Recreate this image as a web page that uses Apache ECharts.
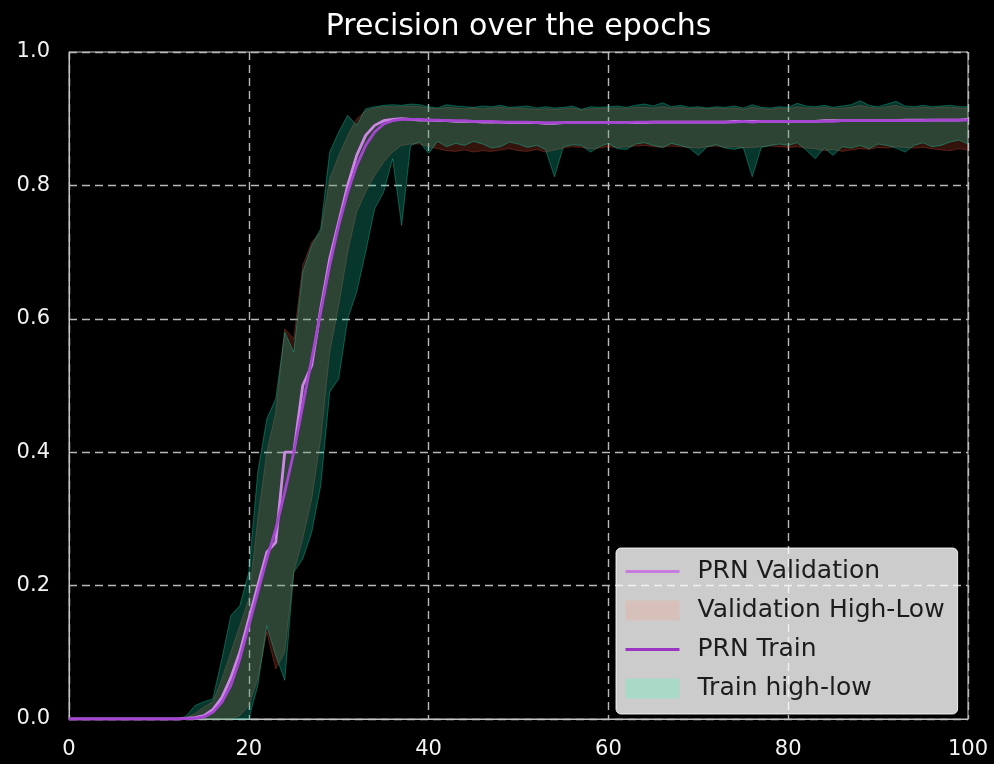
<!DOCTYPE html>
<html>
<head>
<meta charset="utf-8">
<script src="https://cdn.jsdelivr.net/npm/echarts@6/dist/echarts.min.js"></script>
<style>
html,body{margin:0;padding:0;background:#000;}
#chart{width:994px;height:764px;}
</style>
</head>
<body>
<div id="chart"></div>
<script>
// ---- data ----
const epochs = [0,1,2,3,4,5,6,7,8,9,10,11,12,13,14,15,16,17,18,19,20,21,22,23,24,25,26,27,28,29,30,31,32,33,34,35,36,37,38,39,40,41,42,43,44,45,46,47,48,49,50,51,52,53,54,55,56,57,58,59,60,61,62,63,64,65,66,67,68,69,70,71,72,73,74,75,76,77,78,79,80,81,82,83,84,85,86,87,88,89,90,91,92,93,94,95,96,97,98,99,100];

const valMean = [
  0,0,0,0,0,0,0,0,0,0,
  0,0,0,0.0008,0.002,0.005,0.014,0.032,0.062,0.10,
  0.15,0.20,0.25,0.265,0.40,0.40,0.50,0.53,0.615,0.69,
  0.745,0.80,0.845,0.875,0.89,0.897,0.899,0.90,0.899,
  0.898,0.898,0.897,0.897,0.896,0.896,0.896,0.895,0.895,0.895,
  0.894,0.894,0.894,0.894,0.893,0.893,0.894,0.894,0.894,0.894,
  0.894,0.894,0.894,0.894,0.894,0.894,0.895,0.895,0.895,0.895,
  0.895,0.895,0.895,0.895,0.895,0.896,0.896,0.896,0.896,0.896,
  0.896,0.896,0.896,0.896,0.896,0.897,0.897,0.897,0.897,0.897,
  0.897,0.897,0.897,0.897,0.898,0.898,0.898,0.898,0.898,0.898,
  0.898,0.899
];
const valLow = [
  0,0,0,0,0,0,0,0,0,0,
  0,0,0,0,0,0,0,0,0,0.005,
  0.02,0.06,0.13,0.075,0.10,0.22,0.27,0.33,0.42,0.55,
  0.62,0.70,0.76,0.79,0.815,0.835,0.85,0.86,0.862,
  0.862,0.858,0.855,0.852,0.851,0.853,0.850,0.852,0.851,0.853,
  0.855,0.852,0.851,0.854,0.850,0.853,0.856,0.858,0.857,0.855,
  0.856,0.858,0.857,0.858,0.859,0.860,0.858,0.857,0.859,0.858,
  0.857,0.856,0.858,0.859,0.857,0.858,0.856,0.857,0.858,0.859,
  0.858,0.857,0.858,0.856,0.855,0.852,0.854,0.851,0.853,0.855,
  0.854,0.857,0.856,0.858,0.857,0.856,0.857,0.855,0.853,0.852,
  0.855,0.853
];
const valHigh = [
  0,0,0,0,0,0,0,0,0,0,
  0,0,0,0.002,0.008,0.018,0.026,0.06,0.10,0.14,
  0.18,0.30,0.40,0.46,0.585,0.57,0.68,0.715,0.73,0.81,
  0.845,0.875,0.90,0.912,0.916,0.918,0.918,0.918,0.919,
  0.918,0.916,0.915,0.917,0.916,0.915,0.916,0.915,0.916,0.917,
  0.915,0.916,0.915,0.914,0.915,0.914,0.915,0.916,0.913,0.915,
  0.915,0.916,0.916,0.915,0.917,0.917,0.916,0.918,0.916,0.917,
  0.915,0.916,0.915,0.916,0.915,0.916,0.914,0.917,0.915,0.914,
  0.916,0.915,0.918,0.916,0.916,0.917,0.915,0.916,0.917,0.920,
  0.917,0.916,0.918,0.920,0.916,0.916,0.917,0.916,0.917,0.917,
  0.916,0.916
];
const trainMean = [
  0,0,0,0,0,0,0,0,0,0,
  0,0,0,0.0005,0.001,0.003,0.01,0.025,0.05,0.09,
  0.14,0.19,0.24,0.285,0.34,0.40,0.47,0.54,0.61,0.68,
  0.74,0.79,0.83,0.86,0.88,0.892,0.897,0.899,0.899,
  0.899,0.898,0.898,0.897,0.897,0.897,0.896,0.896,0.896,0.895,
  0.895,0.895,0.895,0.894,0.894,0.894,0.894,0.894,0.894,0.894,
  0.894,0.894,0.894,0.894,0.895,0.895,0.895,0.895,0.895,0.895,
  0.895,0.895,0.895,0.895,0.895,0.895,0.896,0.895,0.896,0.896,
  0.896,0.896,0.896,0.896,0.896,0.896,0.896,0.897,0.897,0.897,
  0.897,0.897,0.897,0.897,0.897,0.897,0.897,0.898,0.898,0.898,
  0.898,0.898
];
const trainLow = [
  0,0,0,0,0,0,0,0,0,0,
  0,0,0,0,0,0,0,0,0,0,
  0,0.05,0.14,0.095,0.058,0.22,0.24,0.28,0.35,0.49,
  0.51,0.60,0.64,0.70,0.765,0.79,0.84,0.74,0.86,
  0.865,0.848,0.866,0.858,0.863,0.860,0.866,0.862,0.856,0.858,
  0.865,0.862,0.857,0.860,0.854,0.813,0.858,0.861,0.860,0.850,
  0.858,0.863,0.855,0.854,0.862,0.864,0.860,0.857,0.863,0.860,
  0.856,0.845,0.858,0.861,0.856,0.854,0.857,0.813,0.857,0.860,
  0.862,0.860,0.864,0.853,0.840,0.856,0.845,0.858,0.856,0.860,
  0.855,0.862,0.860,0.856,0.850,0.860,0.864,0.858,0.860,0.865,
  0.868,0.862
];
const trainHigh = [
  0,0,0,0,0,0,0,0,0,0,
  0,0,0,0.004,0.02,0.026,0.03,0.09,0.155,0.17,
  0.22,0.37,0.45,0.48,0.58,0.55,0.67,0.71,0.735,0.85,
  0.88,0.905,0.89,0.915,0.918,0.92,0.921,0.92,0.922,
  0.921,0.918,0.916,0.921,0.919,0.918,0.917,0.919,0.918,0.920,
  0.917,0.918,0.919,0.916,0.918,0.916,0.917,0.919,0.914,0.918,
  0.917,0.918,0.919,0.917,0.920,0.922,0.919,0.924,0.918,0.920,
  0.917,0.918,0.916,0.918,0.917,0.919,0.916,0.921,0.917,0.916,
  0.918,0.917,0.923,0.919,0.918,0.920,0.917,0.919,0.921,0.927,
  0.920,0.918,0.922,0.926,0.919,0.918,0.920,0.918,0.919,0.920,
  0.918,0.918
];
const xTicks = [0, 20, 40, 60, 80, 100];
const yTicks = [0.0, 0.2, 0.4, 0.6, 0.8, 1.0];

// ---- build ----
const pairs = arr => epochs.map((x, i) => [x, arr[i]]);
const bandData = (lo, hi) => epochs.map((x, i) => [x, lo[i], hi[i]]);

const FONT = 'DejaVu Sans';
const VAL_LINE = '#cd88e6';
const TR_LINE = '#a645d2';
const RED_FILL = 'rgba(235,85,60,0.22)';
const RED_EDGE = 'rgba(235,85,60,0.28)';
const GREEN_FILL = 'rgba(24,215,175,0.25)';
const GREEN_EDGE = 'rgba(24,215,175,0.36)';

function bandSeries(name, lo, hi, fill, edge) {
  return {
    type: 'custom', name: name, silent: true, animation: false,
    data: bandData(lo, hi),
    encode: {x: 0, y: [1, 2]},
    itemStyle: {color: fill},
    renderItem: function (params, api) {
      if (params.dataIndex !== 0) return null;
      const upper = [], lower = [];
      for (let i = 0; i < epochs.length; i++) {
        upper.push(api.coord([epochs[i], hi[i]]));
        lower.push(api.coord([epochs[i], lo[i]]));
      }
      const poly = upper.concat(lower.slice().reverse());
      return {
        type: 'group',
        children: [
          {type: 'polygon', shape: {points: poly}, style: {fill: fill, stroke: null}},
          {type: 'polyline', shape: {points: upper}, style: {fill: null, stroke: edge, lineWidth: 1}},
          {type: 'polyline', shape: {points: lower}, style: {fill: null, stroke: edge, lineWidth: 1}}
        ]
      };
    }
  };
}

const chart = echarts.init(document.getElementById('chart'), null, {renderer: 'canvas'});
const lineCommon = {type: 'line', symbol: 'none', showSymbol: false, silent: true, animation: false, emphasis: {disabled: true}};

chart.setOption({
  backgroundColor: '#000000',
  animation: false,
  title: {
    text: 'Precision over the epochs',
    left: 518.5, top: 12, padding: 0, textAlign: 'center',
    textStyle: {color: '#ffffff', fontFamily: FONT, fontSize: 30, fontWeight: 'normal'}
  },
  grid: {left: 69, top: 52, right: 26, bottom: 45, show: true, borderColor: '#c4c4c4', borderWidth: 1, backgroundColor: '#000'},
  xAxis: {
    type: 'value', min: xTicks[0], max: xTicks[xTicks.length - 1], interval: xTicks[1] - xTicks[0],
    axisLine: {show: true, lineStyle: {color: '#c4c4c4', width: 1}},
    axisTick: {show: false},
    axisLabel: {color: '#f2f2f2', fontFamily: FONT, fontSize: 21, margin: 20},
    splitLine: {show: true, lineStyle: {color: '#b8b8b8', width: 1.4, type: [8, 5]}}
  },
  yAxis: {
    type: 'value', min: yTicks[0], max: yTicks[yTicks.length - 1], interval: 0.2,
    axisLine: {show: true, lineStyle: {color: '#c4c4c4', width: 1}},
    axisTick: {show: false},
    axisLabel: {color: '#f2f2f2', fontFamily: FONT, fontSize: 21, margin: 19, formatter: v => v.toFixed(1)},
    splitLine: {show: true, lineStyle: {color: '#b8b8b8', width: 1.4, type: [8, 5]}}
  },
  legend: {
    orient: 'vertical', left: 616, top: 548,
    padding: [11, 13, 13, 8],
    itemWidth: 54, itemHeight: 20, itemGap: 14,
    backgroundColor: 'rgba(255,255,255,0.8)', borderColor: 'rgba(255,255,255,0.85)', borderWidth: 1, borderRadius: 5,
    textStyle: {color: '#1c1c1c', fontFamily: FONT, fontSize: 25, lineHeight: 20, padding: [0, 0, 0, 13]},
    selectedMode: false,
    data: [
      {name: 'PRN Validation', itemStyle: {color: 'rgba(0,0,0,0)', borderWidth: 0}, lineStyle: {width: 3, color: '#c67ddd'}},
      {name: 'Validation High-Low', icon: 'rect', itemStyle: {color: '#d7c0ba'}},
      {name: 'PRN Train', itemStyle: {color: 'rgba(0,0,0,0)', borderWidth: 0}, lineStyle: {width: 3, color: '#9b34c3'}},
      {name: 'Train high-low', icon: 'rect', itemStyle: {color: '#a9d9c7'}}
    ]
  },
  series: [
    bandSeries('Validation High-Low', valLow, valHigh, RED_FILL, RED_EDGE),
    bandSeries('Train high-low', trainLow, trainHigh, GREEN_FILL, GREEN_EDGE),
    Object.assign({}, lineCommon, {name: 'PRN Validation', data: pairs(valMean),
      lineStyle: {color: VAL_LINE, width: 2.8}, itemStyle: {color: VAL_LINE}}),
    Object.assign({}, lineCommon, {name: 'PRN Train', data: pairs(trainMean),
      lineStyle: {color: TR_LINE, width: 2.8}, itemStyle: {color: TR_LINE}})
  ]
});
</script>
</body>
</html>
